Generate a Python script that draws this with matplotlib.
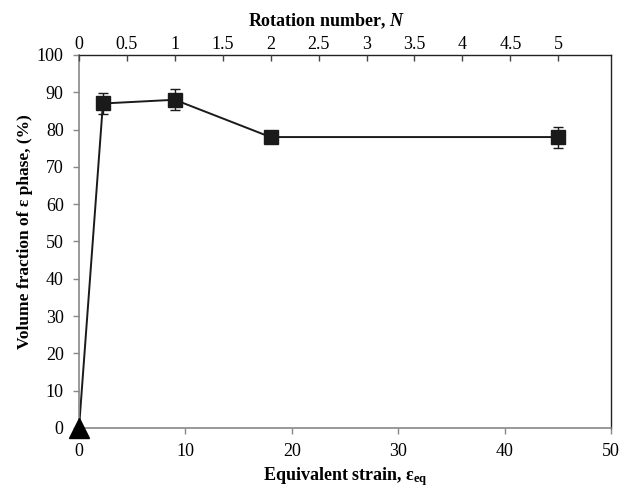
import matplotlib
matplotlib.use("Agg")
import matplotlib.pyplot as plt
import numpy as np

plt.rcParams['font.family'] = ['Liberation Serif', 'DejaVu Serif']
plt.rcParams['mathtext.fontset'] = 'custom'
plt.rcParams['mathtext.rm'] = 'Liberation Serif'
plt.rcParams['mathtext.bf'] = 'Liberation Serif:bold'
plt.rcParams['mathtext.it'] = 'Liberation Serif:italic'
plt.rcParams['mathtext.bfit'] = 'Liberation Serif:italic:bold'

# Data
strain_sq = [2.25, 9, 18, 45]
frac_sq = [87, 88, 78, 78]
err_sq = [2.7, 2.8, 0.6, 2.8]
strain_tri = [0]
frac_tri = [0]
line_x = [0] + strain_sq
line_y = [0] + frac_sq

x_ticks = [0, 10, 20, 30, 40, 50]
y_ticks = list(range(0, 101, 10))
top_ticks = [0, 0.5, 1, 1.5, 2, 2.5, 3, 3.5, 4, 4.5, 5]
top_labels = ['0', '0.5', '1', '1.5', '2', '2.5', '3', '3.5', '4', '4.5', '5']
N_max = 5.55

fig = plt.figure(figsize=(6.3, 4.88), dpi=100)
ax = fig.add_axes([79 / 630, 1 - 428 / 488, 532 / 630, 373 / 488])

ax.plot(line_x, line_y, color='#1a1a1a', lw=1.4, zorder=2)
ax.errorbar(strain_sq, frac_sq, yerr=err_sq, fmt='s', color='#1a1a1a',
            ms=9.5, capsize=3.5, elinewidth=1.0, capthick=1.0, zorder=3)
ax.plot(strain_tri, frac_tri, '^', color='black', ms=15, clip_on=False, zorder=4)

ax.set_xlim(0, 50)
ax.set_ylim(0, 100)
ax.set_xticks(x_ticks)
ax.set_yticks(y_ticks)
ax.tick_params(axis='both', direction='out', length=4, width=1, color='#888888',
               labelsize=13, pad=7)
for s in ['left', 'bottom']:
    ax.spines[s].set_color('#888888')
    ax.spines[s].set_linewidth(1.2)
for s in ['right', 'top']:
    ax.spines[s].set_color('#222222')
    ax.spines[s].set_linewidth(1.0)

ax.set_xlabel(r'Equivalent strain, ε$_{\mathbf{eq}}$', fontsize=13, fontweight='bold')
ax.xaxis.set_label_coords(0.5, -37 / 373, transform=ax.transAxes)
ax.set_ylabel('Volume fraction of ε phase, (%)', fontsize=12.5, fontweight='bold')
ax.yaxis.set_label_coords(-46 / 532, (428 - 232) / 373, transform=ax.transAxes)

ax2 = ax.twiny()
ax2.set_xlim(0, N_max)
ax2.set_xticks(top_ticks)
ax2.set_xticklabels(top_labels)
ax2.tick_params(axis='x', direction='in', length=4, width=1, color='#444444',
                labelsize=13, pad=1.5)
ax2.set_xlabel(r'Rotation number, $\mathbfit{N}$', fontsize=13, fontweight='bold')
ax2.xaxis.set_label_coords((327 - 79) / 532, 1 + 29 / 373, transform=ax2.transAxes)
for s in ax2.spines.values():
    s.set_visible(False)

fig.savefig('out.png', dpi=100)
